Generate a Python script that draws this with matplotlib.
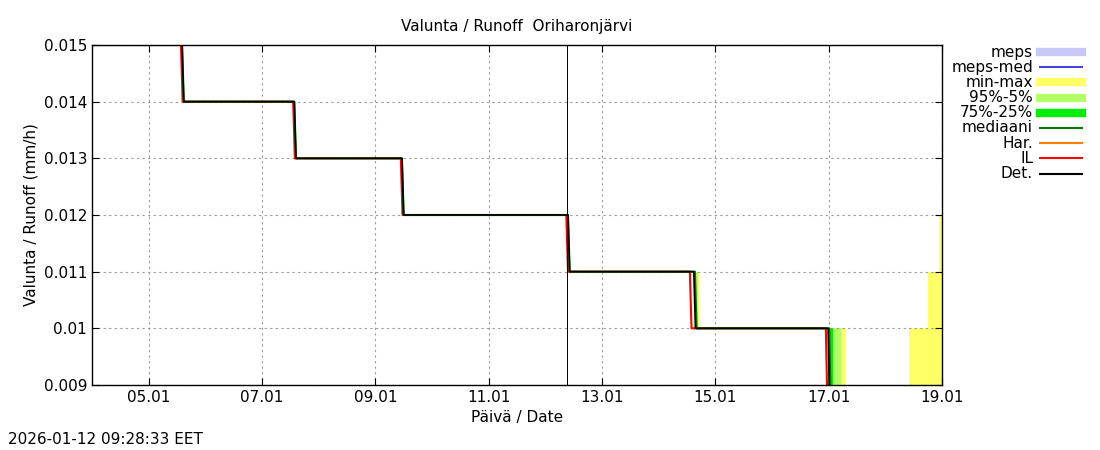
import matplotlib
matplotlib.use("Agg")
import matplotlib.pyplot as plt
import matplotlib.dates as mdates
import numpy as np
from datetime import datetime, timedelta

t0 = datetime(2026, 1, 4)
# step times (days from 04.01 00:00) and values
det_t = [0, 1.62, 3.6, 5.5, 8.43, 10.65, 13.02, 15.0]
det_v = [0.015, 0.014, 0.013, 0.012, 0.011, 0.010, 0.0085, 0.0085]
il_t = [0, 1.60, 3.58, 5.48, 8.40, 10.58, 12.98, 15.0]
il_v = [0.015, 0.014, 0.013, 0.012, 0.011, 0.010, 0.0085, 0.0085]
med_t = [0, 1.62, 3.6, 5.5, 8.43, 10.67, 13.04, 15.0]
med_v = [0.015, 0.014, 0.013, 0.012, 0.011, 0.010, 0.0085, 0.0085]
mm_t = [10.6, 10.72, 12.98, 13.30, 14.42, 14.75, 14.94, 15.0]
mm_lo = [0.010, 0.010, 0.0085, 0.0085, 0.0085, 0.0085, 0.0085, 0.0085]
mm_hi = [0.011, 0.010, 0.010, 0.0085, 0.010, 0.011, 0.012, 0.012]
p95_t = [10.62, 10.70, 12.99, 13.22, 15.0]
p95_lo = [0.010, 0.010, 0.0085, 0.0085, 0.0085]
p95_hi = [0.011, 0.010, 0.010, 0.0085, 0.0085]
p75_t = [12.99, 13.08, 15.0]
p75_lo = [0.0085, 0.0085, 0.0085]
p75_hi = [0.010, 0.0085, 0.0085]
now_day = 8.39

def d(ts):
    return [t0 + timedelta(days=x) for x in ts]

fig = plt.figure(figsize=(11, 4.5), dpi=100)
ax = fig.add_axes([92/1100, 1-385/450, 850/1100, 340/450])
ax.fill_between(d(mm_t), mm_lo, mm_hi, step="post", color="#ffff66", lw=0)
ax.fill_between(d(p95_t), p95_lo, p95_hi, step="post", color="#b3ff66", lw=0)
ax.fill_between(d(p75_t), p75_lo, p75_hi, step="post", color="#00ee00", lw=0)

def stepline(ts, vs, **kw):
    xs, ys = [], []
    for i in range(len(ts)):
        if i > 0:
            xs.append(ts[i] - 0.03); ys.append(vs[i-1])
        xs.append(ts[i]); ys.append(vs[i])
    ax.plot(d(xs), ys, **kw)

stepline(il_t, il_v, color="red", lw=1.5)
stepline(med_t, med_v, color="#007700", lw=1.5)
stepline(det_t, det_v, color="black", lw=1.2)
ax.axvline(t0 + timedelta(days=now_day), color="black", lw=0.7)

ax.set_xlim(t0, t0 + timedelta(days=15))
ax.set_ylim(0.009, 0.015)
ax.set_yticks(np.arange(0.009, 0.0151, 0.001))
ax.set_yticklabels(["0.009", "0.01", "0.011", "0.012", "0.013", "0.014", "0.015"])
ax.xaxis.set_major_locator(mdates.DayLocator(bymonthday=[5, 7, 9, 11, 13, 15, 17, 19]))
ax.xaxis.set_major_formatter(mdates.DateFormatter("%d.%m"))
ax.grid(True, color="#999999", ls=(0, (2, 3)), lw=0.8)
ax.tick_params(direction="in", labelsize=11, top=True, right=True, length=5)
for s in ax.spines.values():
    s.set_linewidth(1)
ax.set_title("Valunta / Runoff  Oriharonjärvi", fontsize=11, pad=10)
ax.set_xlabel("Päivä / Date", fontsize=11)
ax.set_ylabel("Valunta / Runoff (mm/h)", fontsize=11)

labels = ["meps", "meps-med", "min-max", "95%-5%", "75%-25%", "mediaani", "Har.", "IL", "Det."]
colors = ["#c8c8f8", "#4444dd", "#ffff66", "#b3ff66", "#00ee00", "#007700", "#ff8000", "red", "black"]
widths = [6, 1.5, 6, 6, 6, 1.5, 1.5, 1.5, 1.5]
for i, (lab, c, w) in enumerate(zip(labels, colors, widths)):
    y = 1 - (52 + i * 15.2) / 450
    fig.text(1033/1100, y, lab, ha="right", va="center", fontsize=11)
    fig.add_artist(plt.Line2D([1040/1100, 1082/1100], [y, y], color=c, lw=w))
fig.text(8/1100, 1-440/450, "2026-01-12 09:28:33 EET", fontsize=11, va="center")
fig.savefig("out.png")
